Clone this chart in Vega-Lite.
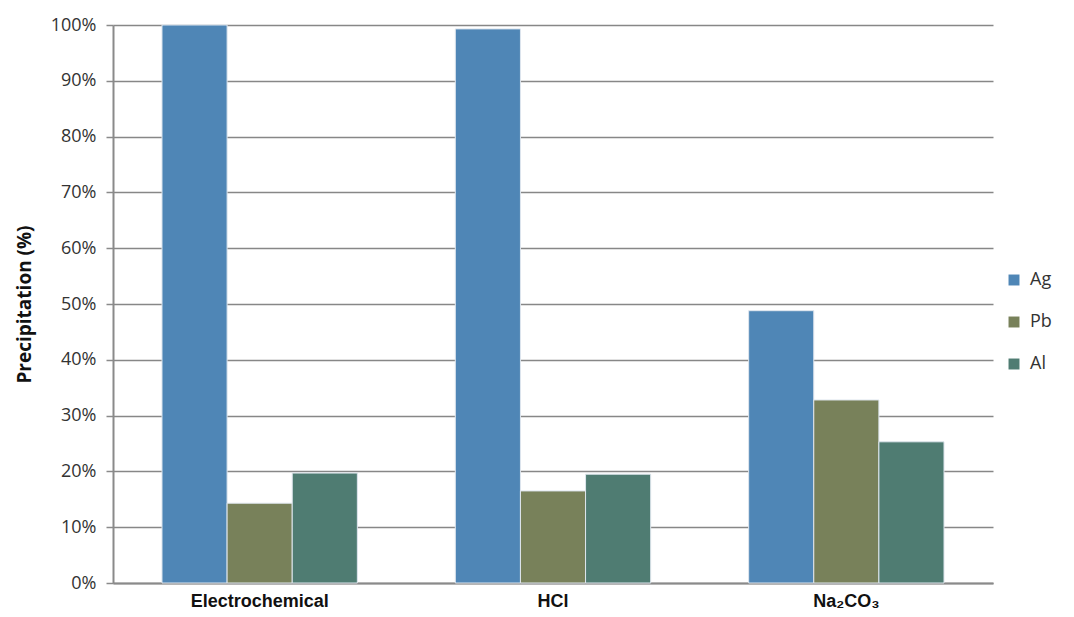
{
  "$schema": "https://vega.github.io/schema/vega-lite/v6.json",
  "autosize": {"type": "none"},
  "width": 880,
  "height": 558,
  "padding": {"left": 113, "top": 25, "right": 81, "bottom": 34},
  "background": "white",
  "data": {
    "values": [
      {"method": "Electrochemical", "metal": "Ag", "value": 1.0},
      {"method": "Electrochemical", "metal": "Pb", "value": 0.143},
      {"method": "Electrochemical", "metal": "Al", "value": 0.197},
      {"method": "HCl", "metal": "Ag", "value": 0.993},
      {"method": "HCl", "metal": "Pb", "value": 0.165},
      {"method": "HCl", "metal": "Al", "value": 0.195},
      {"method": "Na₂CO₃", "metal": "Ag", "value": 0.488},
      {"method": "Na₂CO₃", "metal": "Pb", "value": 0.328},
      {"method": "Na₂CO₃", "metal": "Al", "value": 0.253}
    ]
  },
  "mark": {"type": "bar", "stroke": "#dfe6ee", "strokeWidth": 1},
  "encoding": {
    "x": {
      "field": "method",
      "type": "nominal",
      "sort": ["Electrochemical", "HCl", "Na₂CO₃"],
      "scale": {"paddingInner": 0.334, "paddingOuter": 0.167},
      "axis": {
        "title": null,
        "labelAngle": 0,
        "labelFont": "Liberation Sans",
        "labelFontWeight": "bold",
        "labelFontSize": 18,
        "labelColor": "#111111",
        "labelPadding": 9,
        "ticks": false,
        "domainColor": "#8a8a8a",
        "domainWidth": 2,
        "grid": false
      }
    },
    "xOffset": {
      "field": "metal",
      "type": "nominal",
      "sort": ["Ag", "Pb", "Al"],
      "scale": {"paddingInner": 0, "paddingOuter": 0}
    },
    "y": {
      "field": "value",
      "type": "quantitative",
      "scale": {"domain": [0, 1], "nice": false},
      "axis": {
        "title": "Precipitation (%)",
        "titleFont": "Open Sans",
        "titleFontWeight": "bold",
        "titleFontSize": 19,
        "titleColor": "#111111",
        "titlePadding": 16,
        "format": ".0%",
        "values": [0, 0.1, 0.2, 0.3, 0.4, 0.5, 0.6, 0.7, 0.8, 0.9, 1.0],
        "labelFont": "Open Sans",
        "labelFontSize": 18,
        "labelColor": "#333333",
        "labelPadding": 10,
        "tickColor": "#8a8a8a",
        "tickSize": 7,
        "tickWidth": 1.5,
        "domainColor": "#8a8a8a",
        "domainWidth": 2,
        "grid": true,
        "gridColor": "#878787",
        "gridWidth": 1.5
      }
    },
    "color": {
      "field": "metal",
      "type": "nominal",
      "sort": ["Ag", "Pb", "Al"],
      "scale": {"domain": ["Ag", "Pb", "Al"], "range": ["#4F86B6", "#78815A", "#4F7C72"]},
      "legend": {
        "title": null,
        "orient": "none",
        "legendX": 892,
        "legendY": 246,
        "symbolType": "square",
        "symbolSize": 120,
        "symbolStrokeWidth": 0,
        "labelFont": "Open Sans",
        "labelFontSize": 18,
        "labelColor": "#333333",
        "labelOffset": 7,
        "rowPadding": 24
      }
    }
  },
  "config": {"view": {"stroke": null}}
}
